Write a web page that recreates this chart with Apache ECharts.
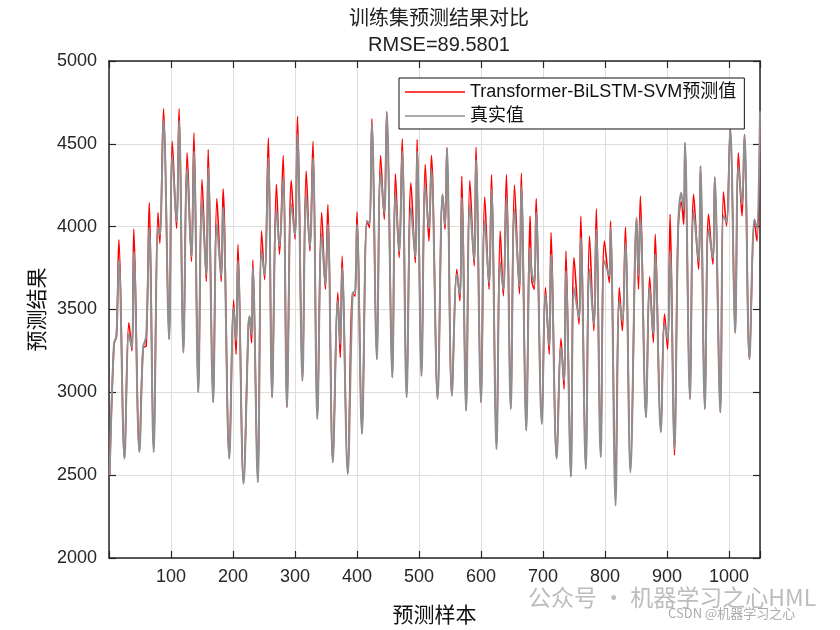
<!DOCTYPE html>
<html>
<head>
<meta charset="utf-8">
<script src="https://cdn.jsdelivr.net/npm/echarts@6/dist/echarts.min.js"></script>
<style>html,body{margin:0;padding:0;background:#fff;}#c{width:840px;height:630px;}</style>
</head>
<body>
<div id="c"></div>
<script>
// sample index of each key point (peaks, dips, troughs)
const idx = [1,8,12,16,25,32,37,40,49,55,60,65,72,79,82,88,97,102,109,113,120,126,133,137,144,150,157,160,168,174,181,184,194,201,205,208,217,225,227,230,232,240,246,251,257,263,270,275,281,287,294,300,304,312,318,324,329,336,343,349,353,361,369,373,376,385,393,397,400,408,416,420,424,432,438,444,448,457,462,468,473,480,487,494,497,504,510,516,520,530,538,542,545,553,561,566,569,576,582,589,592,600,606,613,617,625,631,636,641,648,654,662,665,673,679,682,686,689,698,704,710,713,722,729,734,737,745,750,758,761,769,775,782,786,793,799,807,809,817,823,828,833,841,851,854,857,866,872,878,881,890,896,901,905,912,918,923,927,929,937,943,951,954,961,967,974,977,986,991,996,1002,1010,1015,1021,1025,1033,1041,1045,1050];
// true values
const trueVals = [2500,3290,3340,3800,2600,3350,3270,3850,2640,3270,3340,3990,2640,3995,3950,4640,3320,4425,4030,4640,3240,4345,3820,4455,3000,4155,3710,4355,2940,4015,3700,4115,2600,3510,3310,3793,2448,3410,3460,3350,3753,2458,3853,3710,4415,2970,4105,3883,4295,2910,4135,3950,4556,3070,4195,3880,4415,2840,3955,3650,4014,2578,3552,3290,3753,2508,3600,3610,4014,2750,4034,4020,4626,3200,4325,4080,4693,3090,4195,3850,4455,2970,4115,3820,4455,3100,4245,3990,4345,2960,4195,4010,4476,2980,3713,3590,4175,2890,4135,3800,4405,2940,4034,3660,4225,2658,3783,3620,4175,2900,4105,3640,4245,2770,3873,3720,3660,4085,2810,3592,3280,3833,2600,3270,3070,3733,2492,3632,3450,3934,2538,3743,3410,3984,2610,3793,3700,3994,2317,3552,3430,3903,2518,4054,3703,4054,2850,3632,3350,3833,2760,3412,3320,3853,2658,3994,4205,4100,4506,2960,4094,3790,4365,2900,3984,3810,4299,2880,4064,4030,4596,3360,4365,4134,4556,3200,4044,3990,4697];
// predicted values (Transformer-BiLSTM-SVM)
const predVals = [2500,3290,3340,3920,2600,3420,3250,3985,2640,3270,3280,4145,2640,4085,3900,4713,3320,4516,3990,4713,3240,4446,3790,4566,3000,4285,3670,4466,2940,4170,3670,4229,2600,3556,3230,3893,2448,3410,3440,3300,3799,2458,3974,3680,4536,2970,4255,3833,4430,2910,4279,3924,4666,3070,4335,3853,4516,2840,4085,3622,4134,2578,3602,3210,3823,2508,3600,3580,4090,2750,4034,3994,4652,3200,4430,4044,4693,3090,4319,3813,4530,2970,4265,3783,4526,3100,4375,3913,4430,2960,4195,3984,4476,2980,3743,3552,4305,2890,4279,3763,4480,2940,4179,3622,4315,2658,3974,3582,4315,2900,4251,3596,4323,2770,4064,3672,3622,4170,2810,3632,3230,3964,2600,3325,3020,3853,2492,3813,3412,4064,2538,3944,3372,4108,2610,3913,3662,4034,2468,3632,3372,3998,2518,4054,3622,4185,2850,3697,3301,3954,2760,3472,3261,4074,2620,3994,4150,4014,4506,2960,4195,3743,4365,2900,4074,3773,4299,2880,4211,4004,4596,3360,4446,4064,4556,3200,4044,3913,4596];

const titleLines = ['训练集预测结果对比', 'RMSE=89.5801'];
const seriesNames = ['Transformer-BiLSTM-SVM预测值', '真实值'];
const xName = '预测样本';
const yName = '预测结果';

const chart = echarts.init(document.getElementById('c'), null, {renderer: 'canvas'});
const axisColor = '#262626';
const latin = '"Liberation Sans", Arial, "Noto Sans CJK SC", sans-serif';
const cjk = '"Noto Sans CJK SC", "Liberation Sans", sans-serif';

function mkX(pos, show) {
  return {
    type: 'value', position: pos, min: 0, max: 1050, interval: 100,
    axisLine: {show: true, onZero: false, lineStyle: {color: axisColor, width: 1.5}},
    axisTick: {show: true, inside: true, length: 7, lineStyle: {color: axisColor, width: 1.2}},
    axisLabel: {show: show, fontSize: 18, color: axisColor, fontFamily: latin, margin: 10,
      formatter: v => (v > 0 && v <= 1000 && v % 100 === 0) ? String(v) : ''},
    splitLine: {show: show, lineStyle: {color: '#dedede', width: 1}},
    name: show ? xName : '', nameLocation: 'middle', nameGap: 46,
    nameTextStyle: {fontSize: 21, color: '#111', fontFamily: cjk}
  };
}
function mkY(pos, show) {
  return {
    type: 'value', position: pos, min: 2000, max: 5000, interval: 500,
    axisLine: {show: true, onZero: false, lineStyle: {color: axisColor, width: 1.5}},
    axisTick: {show: true, inside: true, length: 7, lineStyle: {color: axisColor, width: 1.2}},
    axisLabel: {show: show, fontSize: 18, color: axisColor, fontFamily: latin, margin: 12,
      formatter: v => String(v)},
    splitLine: {show: show, lineStyle: {color: '#dedede', width: 1}},
    name: show ? yName : '', nameLocation: 'middle', nameGap: 55, nameRotate: 90,
    nameTextStyle: {fontSize: 21, color: '#111', fontFamily: cjk}
  };
}

chart.setOption({
  animation: false,
  backgroundColor: '#fff',
  title: {
    text: titleLines.join('\n'), left: 434, top: 1, textAlign: 'center',
    textStyle: {fontSize: 20, fontWeight: 'normal', color: '#222', fontFamily: latin, lineHeight: 26}
  },
  grid: {left: 109, right: 80, top: 61, bottom: 71, containLabel: false},
  legend: {
    orient: 'vertical', left: 399, top: 78,
    data: seriesNames,
    icon: 'rect',
    itemWidth: 60, itemHeight: 1.6, itemGap: 6,
    padding: [5, 8, 4, 6],
    backgroundColor: '#fff', borderColor: '#111', borderWidth: 1,
    textStyle: {fontSize: 18, color: '#111', fontFamily: latin}
  },
  xAxis: [mkX('bottom', true), mkX('top', false)],
  yAxis: [mkY('left', true), mkY('right', false)],
  series: [
    {name: seriesNames[0], type: 'line', symbol: 'none', smooth: 0.35,
     data: idx.map((x, i) => [x, predVals[i]]),
     lineStyle: {color: '#ff0000', width: 1.6}, itemStyle: {color: '#ff0000'}},
    {name: seriesNames[1], type: 'line', symbol: 'none', smooth: 0.35,
     data: idx.map((x, i) => [x, trueVals[i]]),
     lineStyle: {color: '#8f8f8f', width: 2}, itemStyle: {color: '#8f8f8f'}}
  ],
  graphic: [
    {type: 'text', left: 528, top: 586, z: 100, style: {text: '公众号 · 机器学习之心HML', fontSize: 23, fill: 'rgba(160,160,160,0.7)', fontFamily: cjk}},
    {type: 'text', left: 668, top: 607, z: 100, style: {text: 'CSDN @机器学习之心', fontSize: 13, fill: 'rgba(150,150,150,0.8)', fontFamily: cjk}}
  ]
});
</script>
</body>
</html>
